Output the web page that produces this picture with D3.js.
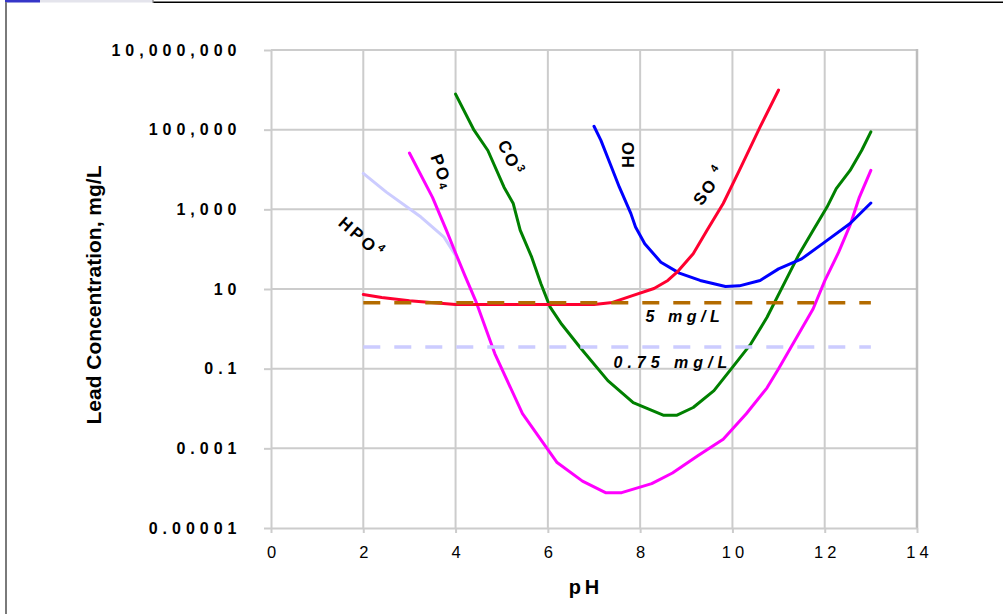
<!DOCTYPE html>
<html>
<head>
<meta charset="utf-8">
<script src="https://cdn.jsdelivr.net/npm/d3@7"></script>
<style>
  body { margin: 0; background: #fff; }
  svg text { font-family: "Liberation Sans", Arial, sans-serif; fill: #000; }
</style>
</head>
<body>
<div id="chart"></div>
<script>
// curves: [pH, lead concentration mg/L]
const hpo4 = [[2.0, 8000], [2.5, 2700], [3.25, 640], [3.75, 200], [4.0, 70]];
const po4 = [[3.0, 26000], [3.5, 2000], [3.8, 300], [4.0, 80], [4.2, 22], [4.45, 4.6], [4.85, 0.24],
  [5.45, 0.0074], [6.2, 0.00044], [6.75, 0.00015], [7.25, 0.000077], [7.6, 0.000077], [8.25, 0.00013],
  [8.7, 0.00024], [9.25, 0.00065], [9.8, 0.0017], [10.3, 0.0074], [10.75, 0.033], [11.0, 0.1],
  [11.5, 1.0], [11.75, 3.2], [12.0, 16], [12.3, 83], [12.55, 400], [12.75, 2000], [13.0, 9500]];
const co3 = [[4.0, 780000], [4.4, 97000], [4.7, 30000], [5.05, 3600], [5.25, 1400], [5.4, 300],
  [5.65, 63], [5.85, 13.5], [6.05, 3.5], [6.3, 1.3], [6.7, 0.34], [7.3, 0.05], [7.85, 0.014],
  [8.5, 0.0068], [8.8, 0.0068], [9.15, 0.0106], [9.6, 0.028], [10.0, 0.108], [10.4, 0.42],
  [10.75, 1.95], [11.15, 16], [11.45, 77], [11.75, 300], [12.05, 1140], [12.25, 3300],
  [12.55, 9500], [12.8, 30000], [13.0, 88000]];
const oh = [[7.0, 122000], [7.15, 54000], [7.35, 14000], [7.55, 3600], [7.8, 780], [7.9, 360],
  [8.1, 137], [8.45, 47], [8.85, 25], [9.3, 16.4], [9.85, 11.6], [10.15, 12], [10.6, 16.4],
  [11.0, 32], [11.5, 57], [12.0, 150], [12.55, 440], [13.0, 1440]];
const so4 = [[2.0, 7.3], [2.4, 6.1], [3.0, 5.1], [4.0, 4.1], [7.0, 4.1], [7.4, 4.6], [7.85, 6.9],
  [8.3, 10.3], [8.6, 16.4], [8.8, 26.5], [9.15, 77], [9.45, 300], [9.8, 1400], [10.15, 9500],
  [10.6, 117000], [11.0, 990000]];
const limit5 = [[2, 4.5], [13, 4.5]];
const limit075 = [[2, 0.35], [13, 0.35]];

const xTicks = [0, 2, 4, 6, 8, 10, 12, 14];
const yTicks = [1e-5, 1e-3, 1e-1, 10, 1e3, 1e5, 1e7];
const yTickLabels = ["0.00001", "0.001", "0.1", "10", "1,000", "100,000", "10,000,000"];

const width = 1003, height = 614;
const margins = { top: 50, bottom: 86, left: 271, right: 86 };
const grid = "#cccccc";

const svg = d3.select("#chart").append("svg")
  .attr("width", width).attr("height", height);

// window frame bits
svg.append("rect").attr("x", 0).attr("y", 0).attr("width", width).attr("height", height).attr("fill", "#fff");
svg.append("line").attr("x1", 153).attr("x2", width).attr("y1", 2.3).attr("y2", 2.3)
  .attr("stroke", "#000").attr("stroke-width", 1.5);
svg.append("rect").attr("x", 5).attr("y", 0).attr("width", 35).attr("height", 2.5).attr("fill", "#3535c8");
svg.append("rect").attr("x", 40).attr("y", 0).attr("width", 113).attr("height", 2.5).attr("fill", "#e4e4ec");
svg.append("line").attr("x1", 153).attr("x2", 153).attr("y1", 0).attr("y2", 3)
  .attr("stroke", "#888").attr("stroke-width", 1.2);
svg.append("line").attr("x1", 6).attr("x2", 6).attr("y1", 2).attr("y2", height)
  .attr("stroke", "#7a7a7a").attr("stroke-width", 2);

const xScale = d3.scaleLinear().domain([0, 14]).range([margins.left, width - margins.right]);
const yScale = d3.scaleLog().domain([1e-5, 1e7]).range([height - margins.bottom, margins.top]);

// gridlines
svg.append("g").selectAll("line").data(xTicks.slice(1, -1)).join("line")
  .attr("x1", d => xScale(d)).attr("x2", d => xScale(d))
  .attr("y1", margins.top).attr("y2", height - margins.bottom)
  .attr("stroke", grid).attr("stroke-width", 2);
svg.append("g").selectAll("line").data(yTicks.slice(1)).join("line")
  .attr("x1", margins.left).attr("x2", width - margins.right)
  .attr("y1", d => yScale(d)).attr("y2", d => yScale(d))
  .attr("stroke", grid).attr("stroke-width", 2);
svg.append("line")
  .attr("x1", width - margins.right).attr("x2", width - margins.right)
  .attr("y1", margins.top - 1).attr("y2", height - margins.bottom)
  .attr("stroke", "#bdbdbd").attr("stroke-width", 2.5);

// axes
const xAxis = d3.axisBottom(xScale).tickValues(xTicks).tickSize(5).tickSizeOuter(0).tickPadding(13);
const yAxis = d3.axisLeft(yScale).tickValues(yTicks).tickSize(7).tickSizeOuter(0).tickPadding(22.5)
  .tickFormat((d, i) => yTickLabels[i]);

const gx = svg.append("g")
  .attr("transform", `translate(0,${height - margins.bottom})`)
  .call(xAxis);
gx.selectAll("text").attr("font-size", 16.5).attr("letter-spacing", 4).attr("dx", 2)
  .attr("font-family", "Liberation Sans, Arial, sans-serif");

const gy = svg.append("g")
  .attr("transform", `translate(${margins.left},0)`)
  .call(yAxis);
gy.selectAll("text").attr("font-size", 16).attr("font-weight", "bold").attr("letter-spacing", 5)
  .attr("font-family", "Liberation Sans, Arial, sans-serif");

[gx, gy].forEach(g => {
  g.select(".domain").attr("stroke", grid).attr("stroke-width", 2);
  g.selectAll(".tick line").attr("stroke", grid).attr("stroke-width", 2);
});

svg.append("text")
  .attr("x", 586).attr("y", 594)
  .attr("text-anchor", "middle")
  .attr("font-size", 20).attr("font-weight", "bold").attr("letter-spacing", 4)
  .text("pH");

svg.append("text")
  .attr("transform", "translate(101,295) rotate(-90)")
  .attr("text-anchor", "middle")
  .attr("font-size", 21).attr("font-weight", "bold")
  .text("Lead Concentration, mg/L");

// curves
const line = d3.line().x(d => xScale(d[0])).y(d => yScale(d[1]));

const series = [
  { data: hpo4, color: "#ccccff" },
  { data: po4, color: "#ff00ff" },
  { data: co3, color: "#008000" },
  { data: oh, color: "#0000ff" },
  { data: so4, color: "#ff0030" },
];

svg.append("g").selectAll("path").data(series).join("path")
  .attr("d", d => line(d.data))
  .attr("fill", "none")
  .attr("stroke", d => d.color)
  .attr("stroke-width", 3)
  .attr("stroke-linejoin", "round")
  .attr("stroke-linecap", "round");

const limits = [
  { data: limit075, color: "#ccccff" },
  { data: limit5, color: "#b36b00" },
];
svg.append("g").selectAll("path").data(limits).join("path")
  .attr("d", d => line(d.data))
  .attr("fill", "none")
  .attr("stroke", d => d.color)
  .attr("stroke-width", 3.5)
  .attr("stroke-dasharray", "17,14");

// curve labels
function curveLabel(main, small, shift, pH, conc, angle, spacing) {
  const t = svg.append("text")
    .attr("transform", `translate(${xScale(pH)},${yScale(conc)}) rotate(${angle})`)
    .attr("text-anchor", "middle")
    .attr("dominant-baseline", "central")
    .attr("font-size", 17).attr("font-weight", "bold")
    .attr("letter-spacing", spacing);
  t.append("tspan").text(main);
  if (small) t.append("tspan").attr("font-size", 11).attr("dy", shift).text(small);
}
curveLabel("HPO", "4", -6, 1.97, 190, 41, 3);
curveLabel("PO", "4", 4, 3.71, 8700, 70, 2);
curveLabel("CO", "3", -5, 5.2, 19500, 64, 2);
curveLabel("OH", null, 0, 7.74, 23000, 90, 0.5);
curveLabel("SO  ", "4", -6, 9.5, 4000, -55, 2);

svg.append("text")
  .attr("x", xScale(8.97)).attr("y", yScale(1.5))
  .attr("text-anchor", "middle")
  .attr("font-size", 16).attr("font-weight", "bold").attr("font-style", "italic")
  .attr("letter-spacing", 4.5)
  .text("5 mg/L");
svg.append("text")
  .attr("x", xScale(8.71)).attr("y", yScale(0.104))
  .attr("text-anchor", "middle")
  .attr("font-size", 16).attr("font-weight", "bold").attr("font-style", "italic")
  .attr("letter-spacing", 5)
  .text("0.75 mg/L");
</script>
</body>
</html>
